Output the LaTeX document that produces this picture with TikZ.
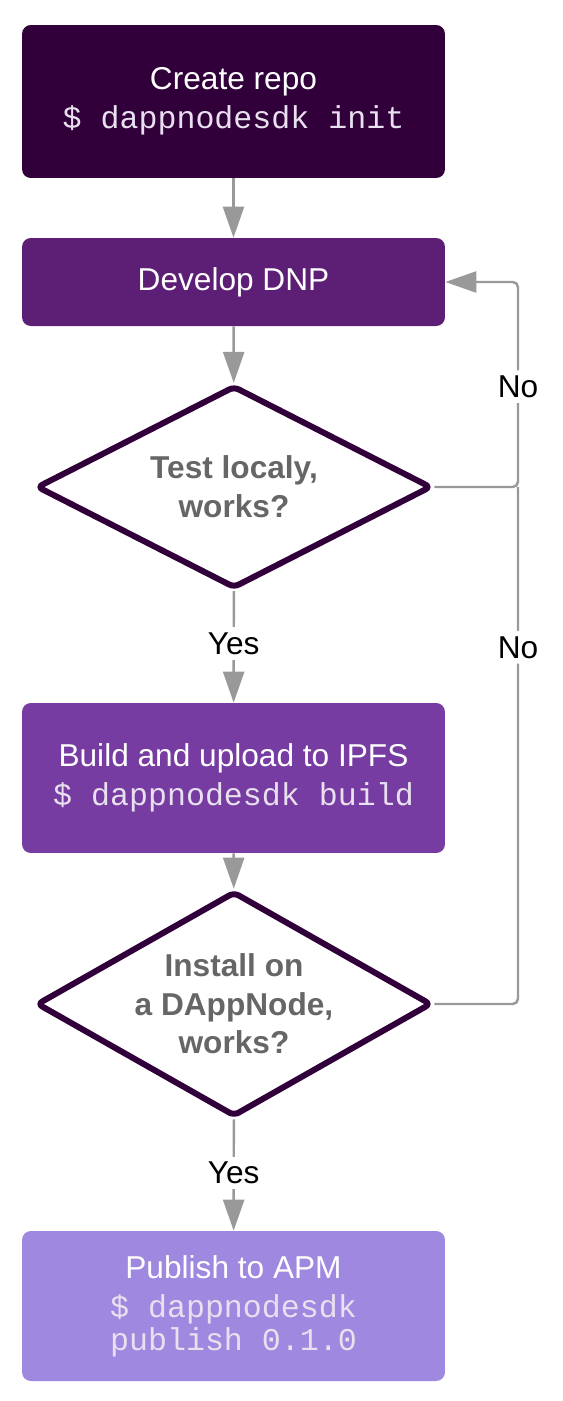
\documentclass[tikz,border=0pt]{standalone}
\usepackage{fontspec}
\setmainfont{Liberation Sans}
\setmonofont{Liberation Mono}
\usepackage{tikz}
\usetikzlibrary{shapes,arrows,arrows.meta,positioning}

\definecolor{plumA}{HTML}{31003A}
\definecolor{plumB}{HTML}{5D1E75}
\definecolor{plumC}{HTML}{763CA2}
\definecolor{plumD}{HTML}{9F88E0}
\definecolor{linegray}{HTML}{999999}
\definecolor{asktext}{HTML}{666666}
\definecolor{cmdtext}{HTML}{E8E0EE}

\tikzset{
	stepbox/.style={rectangle,rounded corners=5pt,minimum width=8.46cm,inner sep=0pt,text=white,align=center},
	askbox/.style={diamond,draw=plumA,line width=3.4pt,rounded corners=3pt,fill=white,minimum width=7.9cm,inner xsep=-1.2cm,inner ysep=-0.9cm,text=asktext,font=\bfseries\fontsize{18}{22}\selectfont,align=center},
	flow/.style={draw=linegray,line width=1.4pt,-{Triangle[length=0.62cm,width=0.42cm]}},
	back/.style={draw=linegray,line width=1.4pt,rounded corners=3pt},
	lbl/.style={fill=white,inner sep=3pt,text=black}
}

\begin{document}
\begin{tikzpicture}[x=0.02cm,y=-0.02cm,font=\fontsize{18}{22}\selectfont]
		\useasboundingbox (0,0) rectangle (562,1401);
		% the steps
		\node[stepbox,fill=plumA,minimum height=3.06cm] (repo) at (233.5,101.5) {Create repo\\ \textcolor{cmdtext}{\ttfamily \$ dappnodesdk init}};
		\node[stepbox,fill=plumB,minimum height=1.76cm] (develop) at (233.5,282) {Develop DNP};
		\node[askbox,minimum height=4.05cm] (test) at (234,487) {Test localy,\\ works?};
		\node[stepbox,fill=plumC,minimum height=3.0cm] (build) at (233.5,778) {Build and upload to IPFS\\ \textcolor{cmdtext}{\ttfamily \$ dappnodesdk build}};
		\node[askbox,minimum height=4.5cm] (install) at (234,1004) {Install on\\ a DAppNode,\\ works?};
		\node[stepbox,fill=plumD,minimum height=3.0cm] (publish) at (233.5,1306) {Publish to APM\\ \textcolor{cmdtext}{\ttfamily \$ dappnodesdk}\\[-3.2pt] \textcolor{cmdtext}{\ttfamily publish 0.1.0}};
		\coordinate (loop) at (518,282);
		%% the arrows
		\draw[flow] (repo) -- (develop);
		\draw[flow] (develop) -- (test);
		\draw[flow] (test) -- node[lbl,pos=0.47] {Yes} (build);
		\draw[flow] (build) -- (install);
		\draw[flow] (install) -- node[lbl,pos=0.48] {Yes} (publish);
		%% the way back
		\draw[back,-{Triangle[length=0.62cm,width=0.42cm]}] (test.east) -- (test.east -| loop) -- node[lbl,pos=0.49] {No} (loop) -- (develop.east);
		\draw[back] (install.east) -- (install.east -| loop) -- node[lbl,pos=0.69] {No} (test.east -| loop);
		\end{tikzpicture}
\end{document}
